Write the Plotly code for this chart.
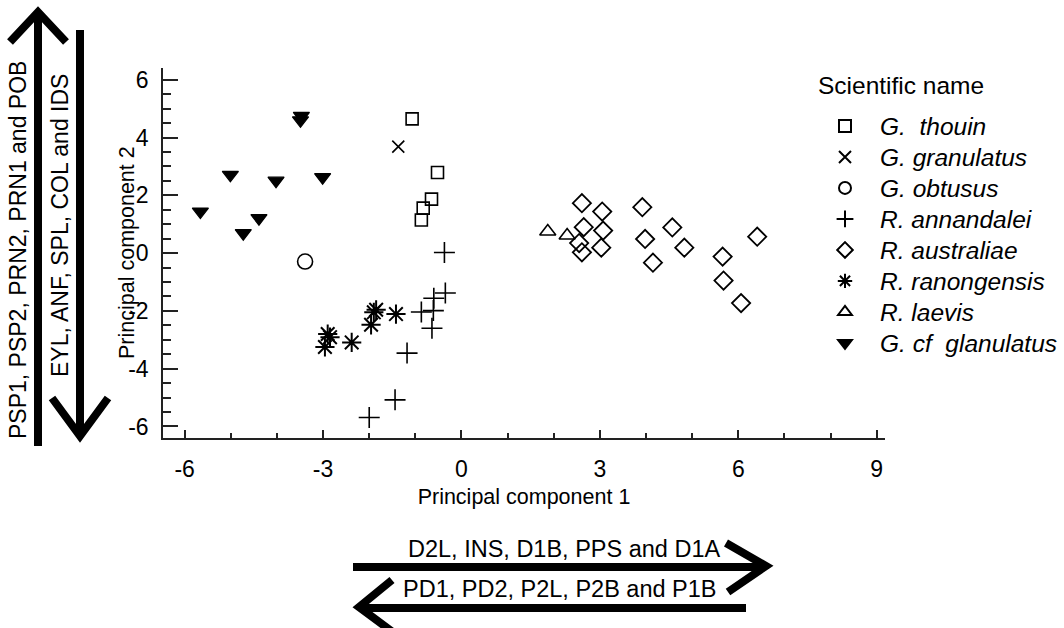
import plotly.graph_objects as go

# ---------------- data ----------------
g_thouin_x = [-1.07, -0.52, -0.65, -0.83, -0.87]
g_thouin_y = [4.65, 2.79, 1.87, 1.56, 1.15]

g_granulatus_x = [-1.37]
g_granulatus_y = [3.69]

g_obtusus_x = [-3.39]
g_obtusus_y = [-0.29]

r_annandalei_x = [-0.37, -0.35, -0.60, -0.87, -0.61, -0.64, -1.18, -1.44, -2.00]
r_annandalei_y = [0.02, -1.38, -1.56, -2.04, -1.99, -2.60, -3.46, -5.08, -5.69]

r_australiae_x = [2.61, 3.05, 3.92, 2.65, 3.07, 2.55, 2.61, 3.03, 3.98, 4.57, 4.83, 4.15, 5.66, 6.41, 5.68, 6.06]
r_australiae_y = [1.73, 1.44, 1.59, 0.90, 0.78, 0.35, 0.03, 0.19, 0.49, 0.89, 0.19, -0.33, -0.12, 0.57, -0.95, -1.73]

r_ranongensis_x = [-1.42, -1.85, -1.90, -1.96, -2.38, -2.85, -2.90, -2.96]
r_ranongensis_y = [-2.11, -1.96, -2.05, -2.48, -3.09, -2.91, -2.80, -3.25]

r_laevis_x = [1.87, 2.29]
r_laevis_y = [0.75, 0.61]

g_cf_x = [-5.66, -5.01, -4.73, -4.39, -4.02, -3.49, -3.47, -3.01]
g_cf_y = [1.44, 2.71, 0.69, 1.21, 2.51, 4.60, 4.75, 2.63]

species_names = ["G.  thouin", "G. granulatus", "G. obtusus", "R. annandalei",
                 "R. australiae", "R. ranongensis", "R. laevis", "G. cf  glanulatus"]

x_ticks = [-6, -3, 0, 3, 6, 9]
y_ticks = [-6, -4, -2, 0, 2, 4, 6]

legend_title = "Scientific name"
x_title = "Principal component 1"
y_title = "Principal component 2"
up_label = "PSP1, PSP2, PRN2, PRN1 and POB"
down_label = "EYL, ANF, SPL, COL and IDS"
right_label = "D2L, INS, D1B, PPS and D1A"
left_label = "PD1, PD2, P2L, P2B and P1B"

# ---------------- layout geometry ----------------
W, H = 1064, 628
L, R, T, B = 163, 179, 68, 190
PW, PH = W - L - R, H - T - B


def px(xp):
    return (xp - L) / PW


def py(yp):
    return (H - B - yp) / PH


FONT = "Liberation Sans, Arial, sans-serif"
LEG_FONT = 24.5
LEG_Y0, LEG_DY = 126, 31

fig = go.Figure()

series = [
    (g_thouin_x, g_thouin_y, "square-open", 12, 1.6),
    (g_granulatus_x, g_granulatus_y, "x-thin-open", 12, 1.6),
    (g_obtusus_x, g_obtusus_y, "circle-open", 15, 1.6),
    (r_annandalei_x, r_annandalei_y, "cross-thin-open", 15, 1.6),
    (r_australiae_x, r_australiae_y, "diamond-open", 14, 1.8),
    (r_ranongensis_x, r_ranongensis_y, "asterisk-open", 16, 2.0),
    (r_laevis_x, r_laevis_y, "triangle-up-open", 14, 1.6),
    (g_cf_x, g_cf_y, "triangle-down", 14, 1.2),
]

legends = {}
for i, (xs, ys, sym, size, lw) in enumerate(series):
    key = "legend" if i == 0 else f"legend{i + 1}"
    fig.add_trace(go.Scatter(
        x=xs, y=ys, mode="markers", name=species_names[i], legend=key,
        showlegend=True,
        marker=dict(symbol=sym, size=size, color="black",
                    line=dict(color="black", width=lw)),
    ))
    legends[key] = dict(
        x=px(810), y=py(LEG_Y0 + LEG_DY * i), xanchor="left", yanchor="middle",
        font=dict(family=FONT, size=LEG_FONT, color="black", style="italic"),
        itemsizing="constant", itemwidth=60, visible=True,
        bgcolor="rgba(0,0,0,0)",
    )

# ---------------- arrows (pixel geometry -> paper) ----------------
AW = 8


def seg(points):
    d = "M " + " L ".join(f"{px(a):.5f},{py(b):.5f}" for a, b in points)
    return dict(type="path", xref="paper", yref="paper", path=d,
                line=dict(color="black", width=AW), layer="above")


shapes = [
    # vertical up arrow
    seg([(38, 12), (38, 446)]),
    seg([(10, 42), (38, 12), (66, 42)]),
    # vertical down arrow
    seg([(80, 30), (80, 436)]),
    seg([(52, 398), (80, 436), (108, 398)]),
    # horizontal right arrow
    seg([(353, 567), (765, 567)]),
    seg([(726, 543), (766, 566), (728, 592)]),
    # horizontal left arrow
    seg([(360, 608), (746, 608)]),
    seg([(392, 580), (359, 607), (398, 636)]),
]

annotations = [
    dict(text=up_label, x=px(33), y=py(250), xref="paper", yref="paper",
         textangle=-90, showarrow=False, xanchor="right", yanchor="middle",
         font=dict(family=FONT, size=23, color="black")),
    dict(text=down_label, x=px(75), y=py(226), xref="paper", yref="paper",
         textangle=-90, showarrow=False, xanchor="right", yanchor="middle",
         font=dict(family=FONT, size=23, color="black")),
    dict(text=right_label, x=px(564), y=py(549), xref="paper", yref="paper",
         showarrow=False, xanchor="center", yanchor="middle",
         font=dict(family=FONT, size=23.5, color="black")),
    dict(text=left_label, x=px(560), y=py(589), xref="paper", yref="paper",
         showarrow=False, xanchor="center", yanchor="middle",
         font=dict(family=FONT, size=23.5, color="black")),
    dict(text=legend_title, x=px(816), y=py(86), xref="paper", yref="paper",
         showarrow=False, xanchor="left", yanchor="middle",
         font=dict(family=FONT, size=LEG_FONT, color="black")),
    dict(text=y_title, x=px(127), y=py(253), xref="paper", yref="paper",
         textangle=-90, showarrow=False, xanchor="center", yanchor="middle",
         font=dict(family=FONT, size=21.5, color="black")),
]

axis_common = dict(
    showgrid=False, zeroline=False, showline=True, linecolor="#222",
    linewidth=1.6, ticks="inside", tickcolor="#222", tickwidth=1.5,
    tickfont=dict(family=FONT, size=23, color="black"),
    mirror=False, automargin=False,
)

fig.update_layout(
    width=W, height=H,
    showlegend=True,
    margin=dict(l=L, r=R, t=T, b=B, autoexpand=False),
    paper_bgcolor="white", plot_bgcolor="white",
    font=dict(family=FONT, color="black"),
    xaxis=dict(
        range=[-6.47, 9.18], tickmode="array", tickvals=x_ticks,
        ticktext=[str(v) for v in x_ticks], ticklen=8,
        minor=dict(dtick=1, tick0=0, ticks="inside", ticklen=5,
                   tickcolor="#222", tickwidth=1.5),
        ticklabelstandoff=10,
        title=dict(text=x_title, standoff=8,
                   font=dict(family=FONT, size=21.5, color="black")),
        **axis_common,
    ),
    yaxis=dict(
        range=[-6.4, 6.41], tickmode="array", tickvals=y_ticks,
        ticktext=[str(v) for v in y_ticks], ticklen=15,
        minor=dict(dtick=0.5, tick0=0, ticks="inside", ticklen=8,
                   tickcolor="#222", tickwidth=1.5),
        ticklabelstandoff=8,
        **axis_common,
    ),
    shapes=shapes,
    annotations=annotations,
    **legends,
)

fig.write_html(
    "out.html",
    config={"displayModeBar": False},
    post_script="document.body.style.margin='0';document.body.style.overflow='hidden';",
)
